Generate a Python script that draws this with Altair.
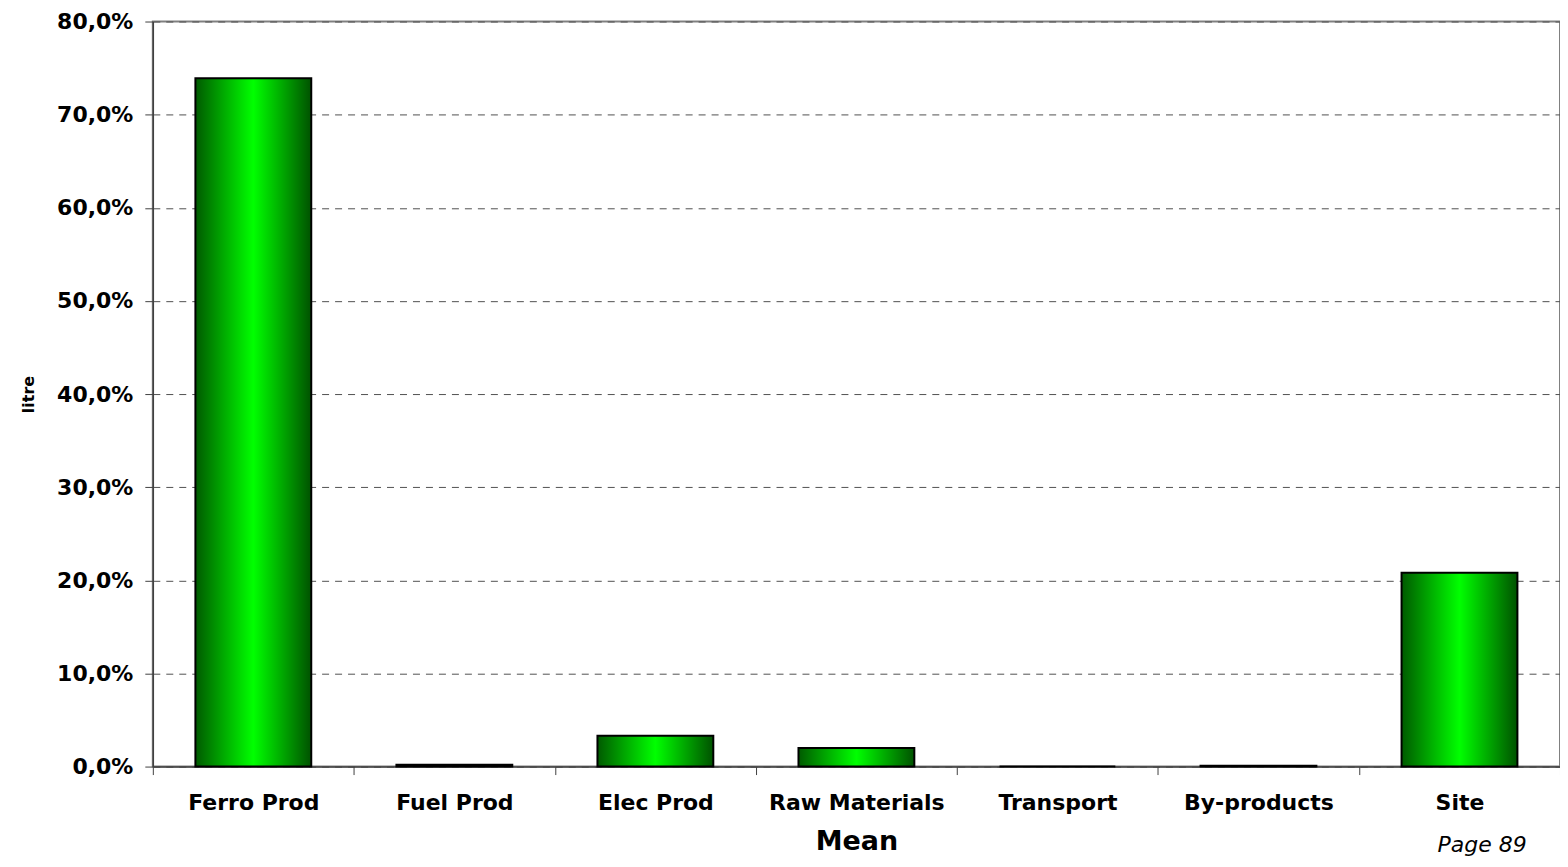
import altair as alt
import pandas as pd

categories = ["Ferro Prod", "Fuel Prod", "Elec Prod", "Raw Materials", "Transport", "By-products", "Site"]
values = [0.739, 0.002, 0.033, 0.020, 0.0, 0.001, 0.208]
y_ticks = [0.0, 0.1, 0.2, 0.3, 0.4, 0.5, 0.6, 0.7, 0.8]

df = pd.DataFrame({"category": categories, "value": values})

FONT = "DejaVu Sans"

grad = alt.Gradient(
    gradient="linear",
    x1=0, x2=1, y1=0, y2=0,
    stops=[
        alt.GradientStop(color="#005a00", offset=0),
        alt.GradientStop(color="#00ff00", offset=0.5),
        alt.GradientStop(color="#005200", offset=1),
    ],
)

bars = alt.Chart(df).mark_bar(
    color=grad, stroke="black", strokeWidth=2, size=116
).encode(
    x=alt.X(
        "category:N", sort=categories,
        scale=alt.Scale(paddingInner=0, paddingOuter=0),
        axis=alt.Axis(
            title="Mean", titleFont=FONT, titleFontSize=27, titleFontWeight="bold",
            titleColor="black", titlePadding=15,
            labelFont=FONT, labelFontSize=22, labelFontWeight="bold", labelColor="black",
            labelAngle=0, labelPadding=18, tickBand="extent", tickSize=8,
            tickColor="#404040", domainColor="#404040", domainWidth=1.5, grid=False,
        ),
    ),
    y=alt.Y(
        "value:Q",
        scale=alt.Scale(domain=[0, 0.8], nice=False),
        axis=alt.Axis(
            title="litre", titleFont=FONT, titleFontSize=16, titleFontWeight="bold",
            titleColor="black", titlePadding=20,
            values=y_ticks, format=".1%",
            labelExpr="replace(datum.label, '.', ',')",
            labelFont=FONT, labelFontSize=22, labelFontWeight="bold", labelColor="black",
            labelPadding=12, tickSize=8, tickColor="#404040",
            domainColor="#404040", domainWidth=1.5,
            grid=True, gridColor="#505050", gridDash=[7, 6], gridWidth=1,
        ),
    ),
)

page = alt.Chart(pd.DataFrame({"t": ["Page 89"]})).mark_text(
    font=FONT, fontSize=22, fontStyle="italic", align="center", baseline="middle", color="black"
).encode(
    text="t:N", x=alt.value(1331), y=alt.value(825)
)

chart = alt.layer(bars, page).properties(
    width=1409, height=746,
    padding={"left": 145, "top": 13, "right": 0, "bottom": 92},
    autosize=alt.AutoSizeParams(type="none"),
).configure_view(stroke="#808080", strokeWidth=2)

chart.save("out.html", embed_options={"renderer": "svg", "actions": False})
